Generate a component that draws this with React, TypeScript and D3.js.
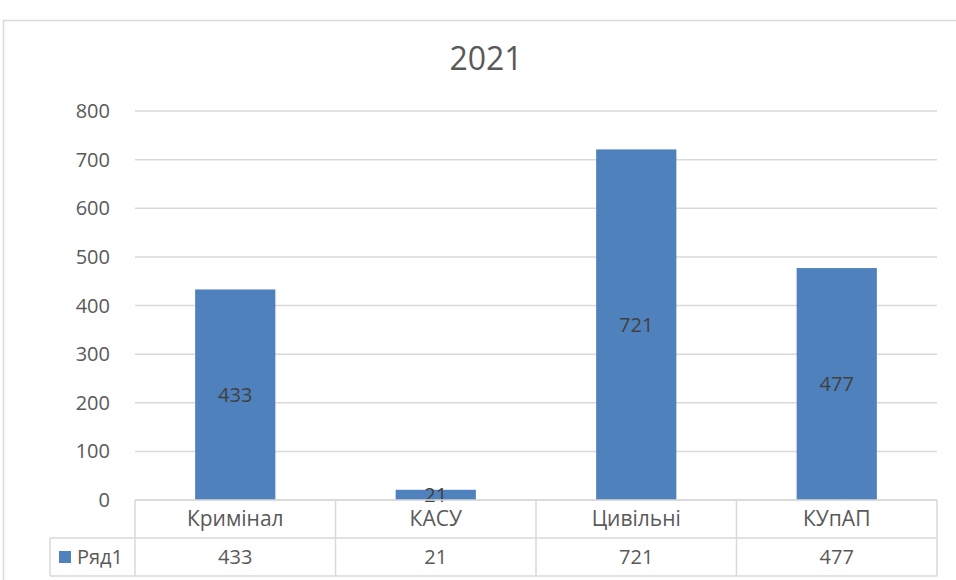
import { useEffect, useRef } from 'react';
import * as d3 from 'd3';

const categories = ['Кримінал', 'КАСУ', 'Цивільні', 'КУпАП'];
const values = [433, 21, 721, 477];
const seriesName = 'Ряд1';
const yTicks = [0, 100, 200, 300, 400, 500, 600, 700, 800];
const title = '2021';

function App() {
  const ref = useRef<SVGSVGElement>(null);

  useEffect(() => {
    drawChart();
    // eslint-disable-next-line
  }, []);

  function drawChart() {
    const config = {
      width: 956,
      height: 580,
      left: 135,
      right: 937,
      top: 111,
      bottom: 500,
      rowH: 38,
      legendLeft: 50
    };
    const font = "'Open Sans', 'Noto Sans', sans-serif";
    const textColor = '#595959';
    const gridColor = '#d9d9d9';

    const svg = d3.select(ref.current);
    svg.selectAll('*').remove();

    // outer chart frame
    svg.append('rect')
      .attr('x', 3.5).attr('y', 20.5)
      .attr('width', 960).attr('height', 600)
      .attr('fill', '#fff')
      .attr('stroke', gridColor).attr('stroke-width', 1.5);

    svg.append('text')
      .attr('x', 486).attr('y', 70)
      .attr('text-anchor', 'middle')
      .style('font-family', font).style('font-size', '32px')
      .attr('fill', textColor)
      .text(title);

    const xScale = d3.scaleBand()
      .domain(categories)
      .range([config.left, config.right])
      .paddingInner(0).paddingOuter(0);

    const yScale = d3.scaleLinear()
      .domain([0, 800])
      .range([config.bottom, config.top]);

    // gridlines
    svg.append('g').selectAll('line')
      .data(yTicks)
      .join('line')
      .attr('x1', config.left).attr('x2', config.right)
      .attr('y1', d => yScale(d)).attr('y2', d => yScale(d))
      .attr('stroke', gridColor).attr('stroke-width', 1.5);

    // y labels
    svg.append('g').selectAll('text')
      .data(yTicks)
      .join('text')
      .attr('x', 110)
      .attr('y', d => yScale(d))
      .attr('dy', '0.35em')
      .attr('text-anchor', 'end')
      .style('font-family', font).style('font-size', '20px')
      .attr('fill', textColor)
      .text(d => d);

    const barW = xScale.bandwidth() * 0.4;

    svg.append('g').selectAll('rect')
      .data(values)
      .join('rect')
      .attr('x', (_, i) => xScale(categories[i])! + (xScale.bandwidth() - barW) / 2)
      .attr('y', d => yScale(d))
      .attr('width', barW)
      .attr('height', d => yScale(0) - yScale(d))
      .attr('fill', '#4f81bd');

    svg.append('g').selectAll('text')
      .data(values)
      .join('text')
      .attr('x', (_, i) => xScale(categories[i])! + xScale.bandwidth() / 2)
      .attr('y', d => (yScale(d) + yScale(0)) / 2)
      .attr('dy', '0.35em')
      .attr('text-anchor', 'middle')
      .style('font-family', font).style('font-size', '20px')
      .attr('fill', '#404040')
      .text(d => d);

    // data table
    const table = svg.append('g');
    const r1 = config.bottom;
    const r2 = config.bottom + config.rowH;
    const r3 = config.bottom + 2 * config.rowH;
    const hl = (x1: number, x2: number, y: number) => table.append('line')
      .attr('x1', x1).attr('x2', x2).attr('y1', y).attr('y2', y)
      .attr('stroke', gridColor).attr('stroke-width', 1.5);
    const vl = (x: number, y1: number, y2: number) => table.append('line')
      .attr('x1', x).attr('x2', x).attr('y1', y1).attr('y2', y2)
      .attr('stroke', gridColor).attr('stroke-width', 1.5);

    hl(config.left, config.right, r1);
    hl(config.legendLeft, config.right, r2);
    hl(config.legendLeft, config.right, r3);
    vl(config.legendLeft, r2, r3);
    categories.forEach(c => vl(xScale(c)!, r1, r3));
    vl(config.right, r1, r3);

    table.selectAll('text.cat')
      .data(categories)
      .join('text')
      .attr('class', 'cat')
      .attr('x', d => xScale(d)! + xScale.bandwidth() / 2)
      .attr('y', (r1 + r2) / 2)
      .attr('dy', '0.35em')
      .attr('text-anchor', 'middle')
      .style('font-family', font).style('font-size', '21px')
      .attr('fill', textColor)
      .text(d => d);

    table.selectAll('text.val')
      .data(values)
      .join('text')
      .attr('class', 'val')
      .attr('x', (_, i) => xScale(categories[i])! + xScale.bandwidth() / 2)
      .attr('y', (r2 + r3) / 2)
      .attr('dy', '0.35em')
      .attr('text-anchor', 'middle')
      .style('font-family', font).style('font-size', '20px')
      .attr('fill', textColor)
      .text(d => d);

    table.append('rect')
      .attr('x', 59).attr('y', (r2 + r3) / 2 - 6)
      .attr('width', 12).attr('height', 12)
      .attr('fill', '#4f81bd');
    table.append('text')
      .attr('x', 77).attr('y', (r2 + r3) / 2)
      .attr('dy', '0.35em')
      .style('font-family', font).style('font-size', '20px')
      .attr('fill', textColor)
      .text(seriesName);
  }

  return (
    <svg ref={ref} width={956} height={580}
      style={{ position: 'absolute', left: 0, top: 0, display: 'block' }} />
  );
}

export default App;
